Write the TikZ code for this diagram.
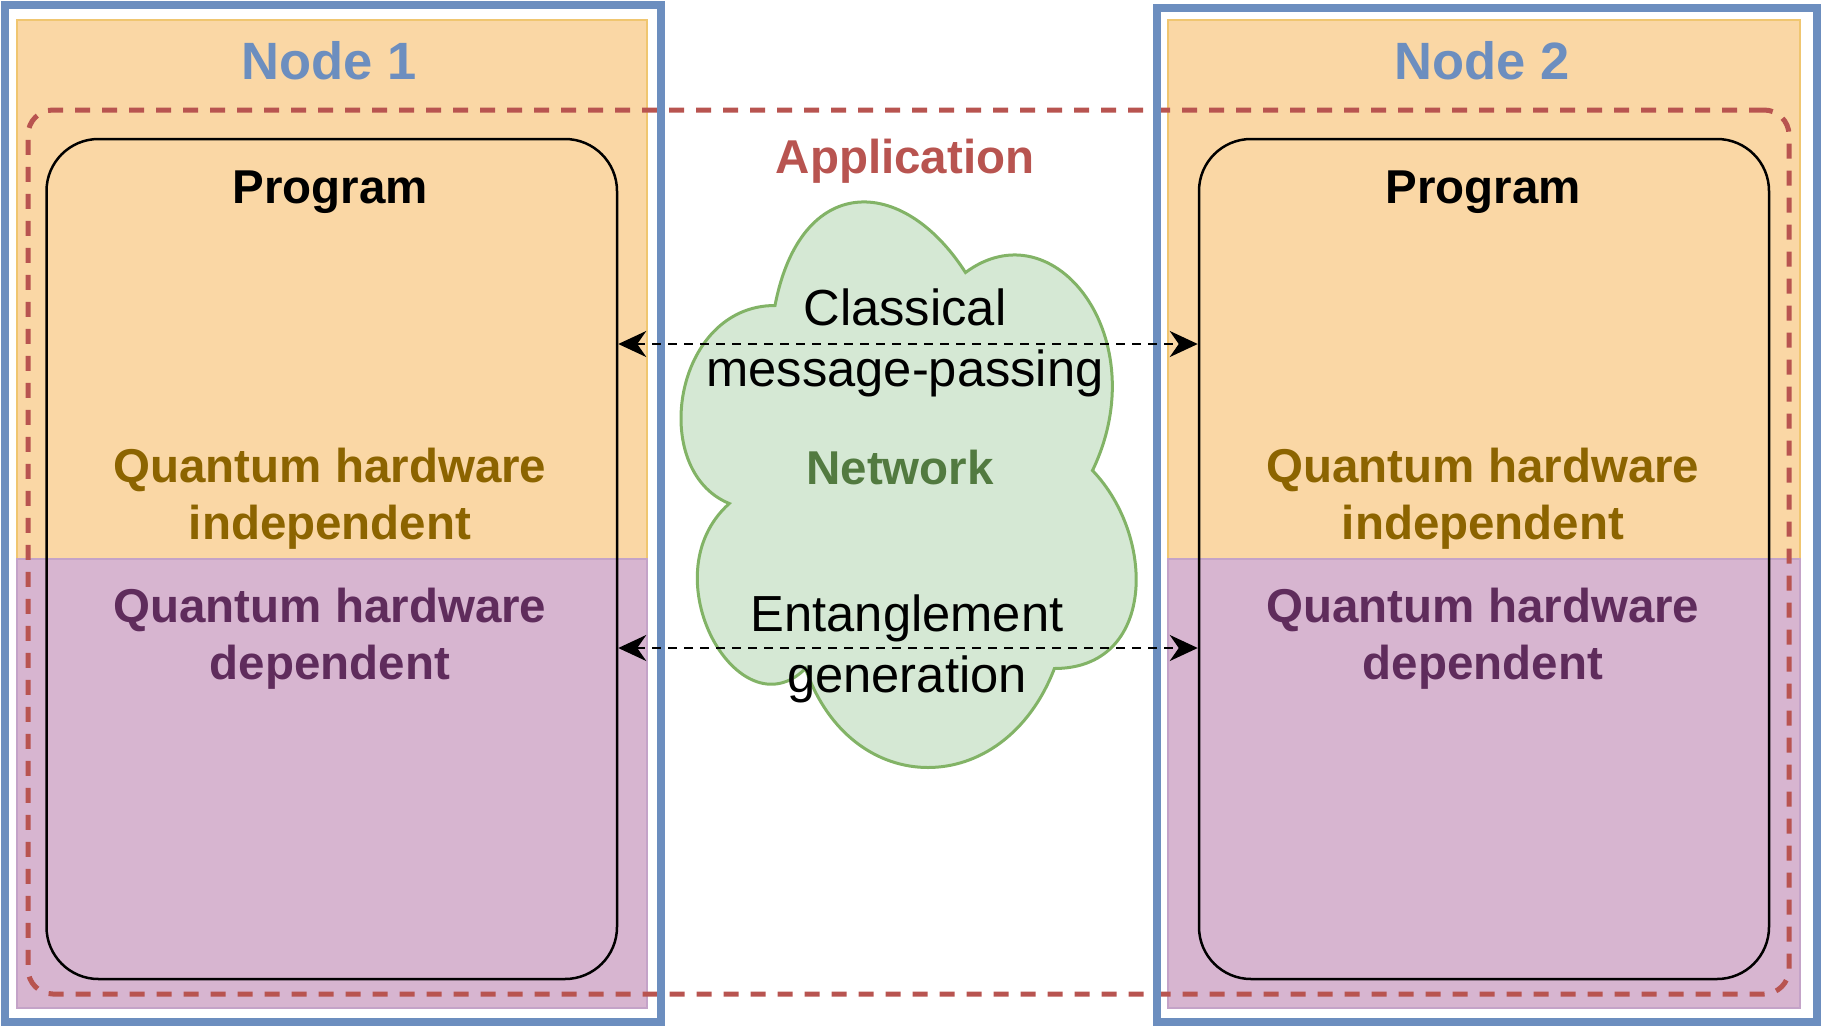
\documentclass[tikz,border=0pt]{standalone}
\usepackage{fontspec}
\setmainfont{Liberation Sans}
\usetikzlibrary{positioning,arrows.meta}
\definecolor{frameblue}{HTML}{6C8EBF}
\definecolor{upperfill}{HTML}{FAD7A5}
\definecolor{upperline}{HTML}{F0C670}
\definecolor{lowerfill}{HTML}{D7B5D0}
\definecolor{lowerline}{HTML}{C4A3C8}
\definecolor{appred}{HTML}{B85450}
\definecolor{indepText}{HTML}{8C6400}
\definecolor{depText}{HTML}{5F2C5C}
\definecolor{netfill}{HTML}{D5E8D4}
\definecolor{netline}{HTML}{82B366}
\definecolor{netText}{HTML}{527A40}
\tikzset {
    style Frame/.style={
        draw=frameblue,
        line width=8pt,
        rectangle, % Set the shape as a rectangle
        inner sep=0pt,
        outer sep=0pt,
    },
    style Upper/.style={
        fill=upperfill,
        draw=upperline,
        line width=2pt,
        rectangle, % Set the shape as a rectangle
        inner sep=0pt,
    },
    style Lower/.style={
        fill=lowerfill,
        draw=lowerline,
        line width=2pt,
        rectangle, % Set the shape as a rectangle
        inner sep=0pt,
    },
    style Program/.style={
        draw=black,
        line width=2.5pt,
        rectangle, % Set the shape as a rectangle
        rounded corners=52pt,
        inner sep=0pt,
    },
    style App/.style={
        draw=appred,
        line width=5pt,
        dash pattern=on 15pt off 12pt,
        rectangle, % Set the shape as a rectangle
        rounded corners=25pt,
        inner sep=0pt,
    },
    title/.style={font=\bfseries\fontsize{52.5}{63}\selectfont, text=frameblue, anchor=base},
    label B/.style={font=\bfseries\fontsize{47.5}{57}\selectfont, align=center, anchor=base},
    label R/.style={font=\fontsize{50.7}{61}\selectfont, align=center, anchor=base},
    link/.style={draw=black, line width=2.5pt, dash pattern=on 9pt off 7pt,
        {Stealth[length=28pt,width=26pt,inset=9pt]}-{Stealth[length=28pt,width=26pt,inset=9pt]}},
}
\begin{document}
\begin{tikzpicture}[x=1pt, y=-1pt]
\useasboundingbox (0,0) rectangle (1821,1026);

% panels
\node [style Upper, minimum width=630pt, minimum height=539pt] (up1) at (332,289.5) {};
\node [style Lower, minimum width=630pt, minimum height=449pt] (low1) at (332,783.5) {};
\node [style Upper, minimum width=632pt, minimum height=539pt] (up2) at (1484,289.5) {};
\node [style Lower, minimum width=632pt, minimum height=449pt] (low2) at (1484,783.5) {};

% application
\node [style App, minimum width=1761pt, minimum height=884pt] (app) at (908.5,552) {};

% programs
\node [style Program, minimum width=570.5pt, minimum height=840pt] (prog1) at (331.75,559) {};
\node [style Program, minimum width=570pt, minimum height=840pt] (prog2) at (1484,559) {};

% frames
\node [style Frame, minimum width=656.5pt, minimum height=1017.5pt] (node1) at (332.75,513.25) {};
\node [style Frame, minimum width=660pt, minimum height=1014pt] (node2) at (1487,514.5) {};

% network cloud
\begin{scope}[shift={(648,140.5)}, x=508pt, y=-660pt]
\draw [fill=netfill, draw=netline, line width=3pt]
  (0.25,0.25) .. controls (0.05,0.25) and (0,0.5) .. (0.16,0.55)
  .. controls (0,0.66) and (0.18,0.9) .. (0.31,0.8)
  .. controls (0.4,1) and (0.7,1) .. (0.8,0.8)
  .. controls (1,0.8) and (1,0.6) .. (0.875,0.5)
  .. controls (1,0.3) and (0.8,0.1) .. (0.625,0.2)
  .. controls (0.5,0.05) and (0.3,0.05) .. (0.25,0.25) -- cycle;
\end{scope}

% texts
\node [title] (t1) at (329,79) {Node 1};
\node [title] (t2) at (1482,79) {Node 2};
\node [label B, text=appred] (appl) at (905,173) {Application};
\node [label B] (pl1) at (330,203) {Program};
\node [label B] (pl2) at (1483,203) {Program};
\node [label B, text=indepText] (ind1) at (330,539) {Quantum hardware\\independent};
\node [label B, text=indepText] (ind2) at (1483,539) {Quantum hardware\\independent};
\node [label B, text=depText] (dep1) at (330,679) {Quantum hardware\\dependent};
\node [label B, text=depText] (dep2) at (1483,679) {Quantum hardware\\dependent};
\node [label B, text=netText] (net) at (900,484) {Network};
\node [label R] (cl) at (905,386) {Classical\\message-passing};
\node [label R] (ent) at (907,692) {Entanglement\\generation};

% links
\coordinate (c1) at (0,344);
\coordinate (c2) at (0,648);
\draw [link] (prog1.east |- c1) -- (prog2.west |- c1);
\draw [link] (prog1.east |- c2) -- (prog2.west |- c2);

\end{tikzpicture}
\end{document}
